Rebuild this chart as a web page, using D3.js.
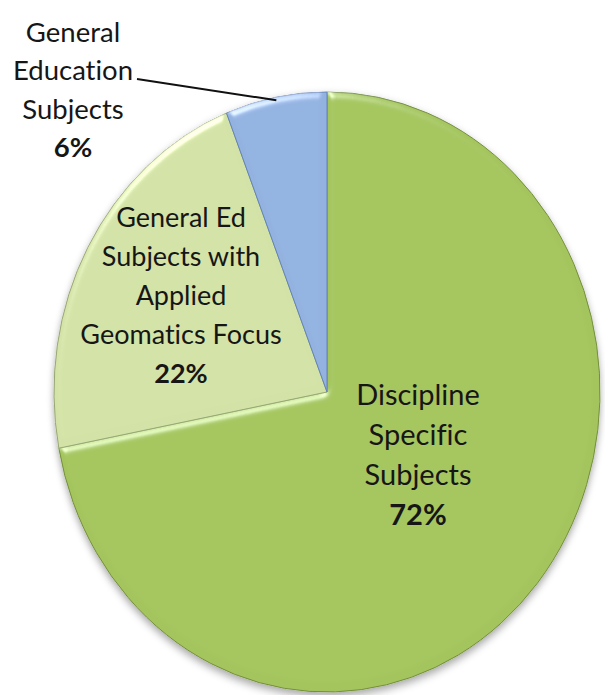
<!DOCTYPE html>
<html>
<head>
<meta charset="utf-8">
<script src="https://cdn.jsdelivr.net/npm/d3@7"></script>
<style>
  html, body { margin: 0; padding: 0; background: #fff; }
  svg { display: block; }
  .lbl { font-family: Lato, "Open Sans", sans-serif; fill: #161616; font-variant-ligatures: none; }
  .pct { font-weight: bold; }
</style>
</head>
<body>
<svg id="chart" width="605" height="695"></svg>
<script>
// data
const categories = [
    "Discipline Specific Subjects",
    "General Ed Subjects with Applied Geomatics Focus",
    "General Education Subjects"
];
const values = [72, 22, 6];
const labelLines = [
    ["Discipline", "Specific", "Subjects"],
    ["General Ed", "Subjects with", "Applied", "Geomatics Focus"],
    ["General", "Education", "Subjects"]
];
const colors = ["#a4c55d", "#d3e2a6", "#93b2e0"];
const edgeColors = ["#748f3c", "#98a873", "#6385b8"];

const width = 605, height = 695;
const cx = 327, cy = 392, rx = 273, ry = 300;

// label layout: center x, first baseline, line step, font size
const labelLayout = [
    { x: 418, y: 405, step: 40, size: 29 },
    { x: 181, y: 227, step: 39, size: 27 },
    { x: 73, y: 42, step: 38.3, size: 27.5 }
];

const svg = d3.select("#chart");
const defs = svg.append("defs");

// soft bevel on each slice
const bevel = defs.append("filter").attr("id", "bevel")
    .attr("x", "-5%").attr("y", "-5%").attr("width", "110%").attr("height", "110%");
bevel.append("feGaussianBlur").attr("in", "SourceAlpha").attr("stdDeviation", 4).attr("result", "blur");
bevel.append("feSpecularLighting")
    .attr("in", "blur").attr("surfaceScale", 4).attr("specularConstant", 0.5)
    .attr("specularExponent", 35).attr("lighting-color", "#ffffff").attr("result", "spec")
    .append("feDistantLight").attr("azimuth", 240).attr("elevation", 35);
bevel.append("feComposite").attr("in", "spec").attr("in2", "SourceAlpha").attr("operator", "in").attr("result", "specIn");
bevel.append("feComposite").attr("in", "SourceGraphic").attr("in2", "specIn")
    .attr("operator", "arithmetic").attr("k1", 0).attr("k2", 1).attr("k3", 1).attr("k4", 0);

// drop shadow under the pie
const shadow = defs.append("filter").attr("id", "shadow")
    .attr("x", "-10%").attr("y", "-10%").attr("width", "120%").attr("height", "120%");
shadow.append("feDropShadow").attr("dx", 0).attr("dy", 4).attr("stdDeviation", 4)
    .attr("flood-color", "#000").attr("flood-opacity", 0.35);

const pie = d3.pie().sort(null).value(d => d)(values);
const arc = d3.arc().innerRadius(0).outerRadius(ry);

const pieG = svg.append("g")
    .attr("filter", "url(#shadow)")
    .attr("transform", `translate(${cx},${cy}) scale(${rx / ry},1)`);

pieG.selectAll(".slice")
    .data(pie)
    .enter()
    .append("path")
    .attr("class", "slice")
    .attr("d", arc)
    .attr("fill", (d, i) => colors[i])
    .attr("stroke", (d, i) => edgeColors[i])
    .attr("stroke-width", 1)
    .attr("vector-effect", "non-scaling-stroke")
    .attr("filter", "url(#bevel)");

// leader line for the small slice
const small = pie[2];
const mid = (small.startAngle + small.endAngle) / 2;
const tip = [cx + rx * 0.99 * Math.sin(mid), cy - ry * 0.99 * Math.cos(mid)];
svg.append("line")
    .attr("x1", 137).attr("y1", 79)
    .attr("x2", tip[0]).attr("y2", tip[1])
    .attr("stroke", "#111").attr("stroke-width", 2);

const total = d3.sum(values);
const fmt = d3.format(".0%");

const labels = svg.selectAll(".lbl")
    .data(pie)
    .enter()
    .append("text")
    .attr("class", "lbl")
    .attr("text-anchor", "middle")
    .style("font-size", (d, i) => labelLayout[i].size + "px");

labels.each(function (d, i) {
    const L = labelLayout[i];
    const t = d3.select(this);
    const lines = labelLines[i];
    lines.forEach((s, k) => {
        t.append("tspan").attr("x", L.x).attr("y", L.y + k * L.step).text(s);
    });
    t.append("tspan").attr("class", "pct")
        .attr("x", L.x).attr("y", L.y + lines.length * L.step)
        .text(fmt(d.data / total));
});
</script>
</body>
</html>
